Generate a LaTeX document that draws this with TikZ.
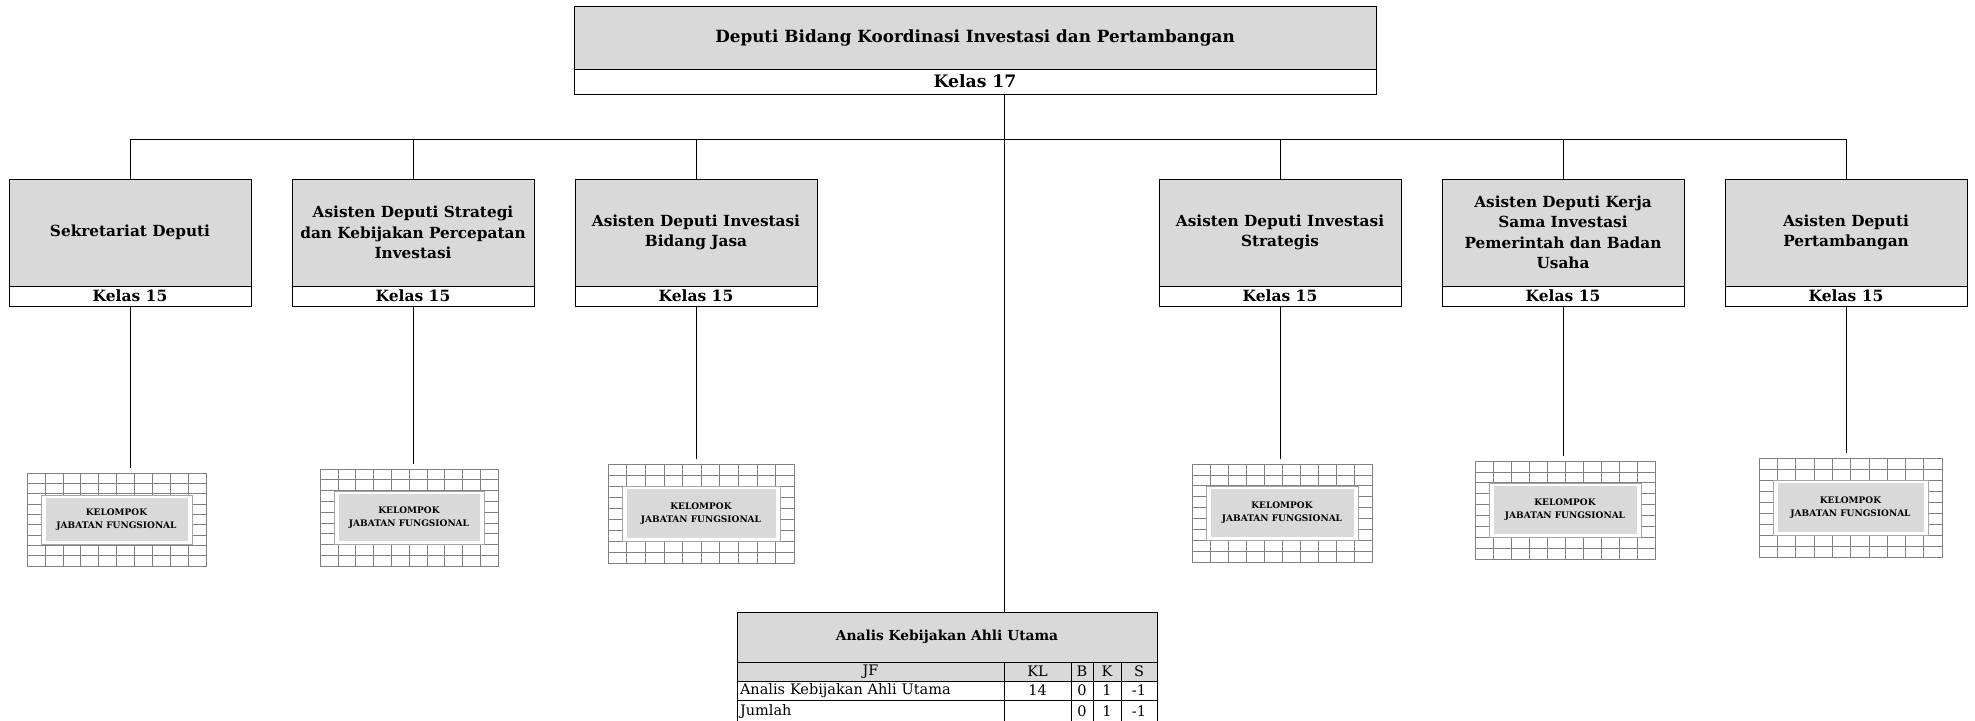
\documentclass[tikz,border=0pt]{standalone}
\usepackage{fontspec}
\setmainfont{DejaVu Serif}
\usetikzlibrary{positioning,calc}

\definecolor{boxgray}{HTML}{D9D9D9}
\definecolor{gridgray}{HTML}{808080}
\definecolor{framegray}{HTML}{A6A6A6}

\newcommand{\unitbox}[3]{% name, left x, text
  \node[unit] (#1) at (#2,179) {#3};
  \node[kelas, below=0pt of #1] (#1-k) {Kelas 15};
}
\newcommand{\jfgroup}[5]{% name, x, y, w, h
  \node[jfgrid, minimum width=#4, minimum height=#5] (#1) at (#2,#3) {};
  \foreach \i in {1,...,9}
    \draw[gridline] ($(#1.north west)!\i/10!(#1.north east)$) -- ($(#1.south west)!\i/10!(#1.south east)$);
  \foreach \j in {1,...,8}
    \draw[gridline] ($(#1.north west)!\j/9!(#1.south west)$) -- ($(#1.north east)!\j/9!(#1.south east)$);
  \node[jfframe, minimum width=#4-28, minimum height=#5-44] (#1-f) at (#1) {};
  \node[jftext, minimum width=#4-37, minimum height=#5-50] (#1-t) at (#1) {KELOMPOK\\JABATAN FUNGSIONAL};
}

\begin{document}
\begin{tikzpicture}[x=1pt, y=-1pt, every node/.style={outer sep=0pt}, link/.style={line width=0.9pt},
  topbox/.style={draw, fill=boxgray, line width=0.95pt, anchor=north west, minimum width=802, minimum height=63, inner sep=0pt, font=\bfseries\fontsize{16.8}{20}\selectfont},
  topkelas/.style={draw, fill=white, line width=0.95pt, minimum width=802, minimum height=25, inner sep=0pt, font=\bfseries\fontsize{17.2}{18}\selectfont},
  unit/.style={draw, fill=boxgray, line width=0.95pt, anchor=north west, minimum width=242, minimum height=107, inner sep=0pt, align=center, font=\bfseries\fontsize{15.3}{20.5}\selectfont},
  kelas/.style={draw, fill=white, line width=0.95pt, minimum width=242, minimum height=20, inner sep=0pt, font=\bfseries\fontsize{15.5}{16}\selectfont},
  jfgrid/.style={draw=gridgray, line width=0.7pt, anchor=north west, inner sep=0pt},
  gridline/.style={draw=gridgray, line width=0.6pt},
  jfframe/.style={draw=framegray, fill=white, line width=0.8pt, inner sep=0pt},
  jftext/.style={fill=boxgray, inner sep=0pt, align=center, font=\bfseries\fontsize{9}{13}\selectfont},
  tbltitle/.style={draw, fill=boxgray, line width=0.9pt, anchor=north west, minimum width=420, minimum height=50, inner sep=0pt, font=\bfseries\fontsize{13.8}{16}\selectfont},
  cell/.style={draw, line width=0.8pt, minimum height=19, inner sep=0pt, font=\fontsize{14.5}{16}\selectfont},
  cellL/.style={cell, text width=261pt, inner xsep=3pt, align=left}]
  \useasboundingbox (0,0) rectangle (1975,720);

  \node[topbox] (deputi) at (574,6) {Deputi Bidang Koordinasi Investasi dan Pertambangan};
  \node[topkelas, below=0pt of deputi] (deputi-k) {Kelas 17};

  \unitbox{sek}{9}{Sekretariat Deputi}
  \unitbox{strat}{292}{Asisten Deputi Strategi\\dan Kebijakan Percepatan\\Investasi}
  \unitbox{jasa}{575}{Asisten Deputi Investasi\\Bidang Jasa}
  \unitbox{istr}{1159}{Asisten Deputi Investasi\\Strategis}
  \unitbox{kpbu}{1442}{Asisten Deputi Kerja\\Sama Investasi\\Pemerintah dan Badan\\Usaha}
  \unitbox{tambang}{1725}{Asisten Deputi\\Pertambangan}

  \jfgroup{jf1}{27}{473}{179}{93}
  \jfgroup{jf2}{320}{469}{178}{97}
  \jfgroup{jf3}{608}{464}{186}{99}
  \jfgroup{jf4}{1192}{464}{180}{98}
  \jfgroup{jf5}{1475}{461}{180}{98}
  \jfgroup{jf6}{1759}{458}{183}{99}

  \node[tbltitle] (akau) at (737,612) {Analis Kebijakan Ahli Utama};
  \node[cell, fill=boxgray, minimum width=267, anchor=north west] (h-jf) at (akau.south west) {JF};
  \node[cell, fill=boxgray, minimum width=67, right=0pt of h-jf] (h-kl) {KL};
  \node[cell, fill=boxgray, minimum width=22, right=0pt of h-kl] (h-b) {B};
  \node[cell, fill=boxgray, minimum width=28, right=0pt of h-b] (h-k) {K};
  \node[cell, fill=boxgray, minimum width=36, right=0pt of h-k] (h-s) {S};
  \node[cellL, below=0pt of h-jf] (r1-jf) {Analis Kebijakan Ahli Utama};
  \node[cell, minimum width=67, right=0pt of r1-jf] (r1-kl) {14};
  \node[cell, minimum width=22, right=0pt of r1-kl] (r1-b) {0};
  \node[cell, minimum width=28, right=0pt of r1-b] (r1-k) {1};
  \node[cell, minimum width=36, right=0pt of r1-k] (r1-s) {-1};
  \node[cellL, minimum height=22, below=0pt of r1-jf] (r2-jf) {Jumlah};
  \node[cell, minimum height=22, minimum width=67, right=0pt of r2-jf] (r2-kl) {};
  \node[cell, minimum height=22, minimum width=22, right=0pt of r2-kl] (r2-b) {0};
  \node[cell, minimum height=22, minimum width=28, right=0pt of r2-b] (r2-k) {1};
  \node[cell, minimum height=22, minimum width=36, right=0pt of r2-k] (r2-s) {-1};

  \coordinate (hub) at (1004,139);
  \draw[link] (hub |- deputi-k.south) -- (hub |- akau.north);
  \draw[link] (sek.north |- hub) -- (tambang.north |- hub);
  \foreach \n in {sek,strat,jasa,istr,kpbu,tambang}
    \draw[link] (\n.north) -- (\n.north |- hub);
  \foreach \n/\g in {sek/jf1,strat/jf2,jasa/jf3,istr/jf4,kpbu/jf5,tambang/jf6}
    \draw[link] (\n-k.south) -- ($(\n-k.south |- \g.north)+(0,-5)$);
\end{tikzpicture}
\end{document}
